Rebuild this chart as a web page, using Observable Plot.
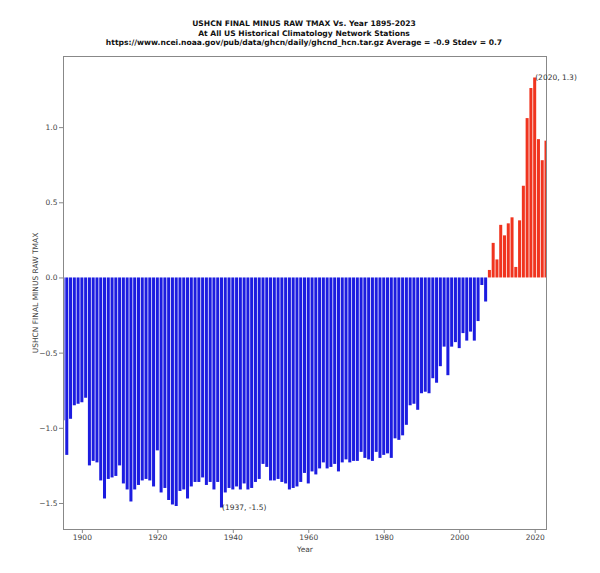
<!DOCTYPE html>
<html>
<head>
<meta charset="utf-8">
<script src="https://cdn.jsdelivr.net/npm/d3@7"></script>
<script src="https://cdn.jsdelivr.net/npm/@observablehq/plot@0.6"></script>
<style>
  html, body { margin: 0; padding: 0; background: #fff; }
  #wrap { width: 600px; height: 573px; position: relative; overflow: hidden; }
  #title { position: absolute; left: 4px; top: 19px; width: 600px; text-align: center;
    font-family: "DejaVu Sans", sans-serif; font-weight: bold; font-size: 7.6px; line-height: 9.6px; color: #111; }
  #chart { position: absolute; left: 0; top: 50px; }
</style>
</head>
<body>
<div id="wrap">
  <div id="title">USHCN FINAL MINUS RAW TMAX Vs. Year 1895-2023<br>At All US Historical Climatology Network Stations<br>https://www.ncei.noaa.gov/pub/data/ghcn/daily/ghcnd_hcn.tar.gz Average = -0.9 Stdev = 0.7</div>
  <div id="chart"></div>
</div>
<script>
// Years 1895..2023
const firstYear = 1895;
const values = [
  -0.95, -1.18, -0.94, -0.85, -0.84,
  -0.83, -0.80, -1.25, -1.22, -1.23, -1.35, -1.47, -1.34, -1.33, -1.32,
  -1.25, -1.37, -1.41, -1.49, -1.41, -1.38, -1.35, -1.34, -1.35, -1.39,
  -1.15, -1.43, -1.40, -1.48, -1.51, -1.52, -1.42, -1.41, -1.47, -1.39,
  -1.36, -1.36, -1.33, -1.38, -1.36, -1.41, -1.36, -1.53, -1.43, -1.40,
  -1.41, -1.39, -1.41, -1.37, -1.41, -1.40, -1.36, -1.34, -1.24, -1.26,
  -1.35, -1.35, -1.34, -1.36, -1.37, -1.41, -1.40, -1.39, -1.36, -1.30,
  -1.37, -1.29, -1.31, -1.27, -1.23, -1.27, -1.26, -1.24, -1.29, -1.23,
  -1.21, -1.23, -1.22, -1.22, -1.16, -1.20, -1.21, -1.22, -1.16, -1.20,
  -1.18, -1.17, -1.20, -1.07, -1.08, -1.05, -0.98, -0.85, -0.84, -0.88,
  -0.77, -0.76, -0.77, -0.67, -0.70, -0.59, -0.46, -0.65, -0.46, -0.43,
  -0.47, -0.37, -0.42, -0.36, -0.42, -0.29, -0.05, -0.16, 0.05, 0.23,
  0.12, 0.35, 0.28, 0.36, 0.40, 0.07, 0.38, 0.61, 1.06, 1.26,
  1.33, 0.92, 0.78, 0.91
];
const years = values.map((_, i) => firstYear + i);

const xTicks = [1900, 1920, 1940, 1960, 1980, 2000, 2020];
const yTicks = [-1.5, -1.0, -0.5, 0.0, 0.5, 1.0];

const annoYears = [1937, 2020];
const annoValues = [-1.53, 1.33];
const annoLabels = ["(1937, -1.5)", "(2020, 1.3)"];

const negColor = "#1c1ce0";
const posColor = "#f0341f";

const bars = years.map((y, i) => ({year: y, value: values[i], color: values[i] < 0 ? negColor : posColor}));
const annos = annoYears.map((y, i) => ({year: y, value: annoValues[i], label: annoLabels[i]}));

const chart = Plot.plot({
  width: 600,
  height: 523,
  marginLeft: 63,
  marginRight: 54,
  marginTop: 6,
  marginBottom: 44,
  style: {fontFamily: "DejaVu Sans, sans-serif", fontSize: "7.5px", color: "#444", background: "#fff"},
  x: {domain: [1895, 2023]},
  y: {domain: [-1.673, 1.473]},
  marks: [
    Plot.rectY(bars, {x1: d => d.year - 0.4, x2: d => d.year + 0.4, y1: 0, y2: "value", fill: "color", clip: true}),
    Plot.frame({stroke: "#888", strokeWidth: 1}),
    Plot.axisX({ticks: xTicks, tickFormat: d => String(d), tickSize: 4, tickPadding: 1.5, stroke: "#888",
      label: "Year", labelAnchor: "center", labelArrow: "none", labelOffset: 22}),
    Plot.axisY({ticks: yTicks, tickFormat: d3.format(".1f"), tickSize: 4, tickPadding: 2, stroke: "#888",
      label: "USHCN FINAL MINUS RAW TMAX", labelAnchor: "center", labelArrow: "none", labelOffset: 31}),
    Plot.text(annos, {x: "year", y: "value", text: "label", textAnchor: "start", lineAnchor: "bottom", dx: 0, dy: 2, fill: "#333", fontSize: 7.5})
  ]
});
document.getElementById("chart").appendChild(chart);
</script>
</body>
</html>
